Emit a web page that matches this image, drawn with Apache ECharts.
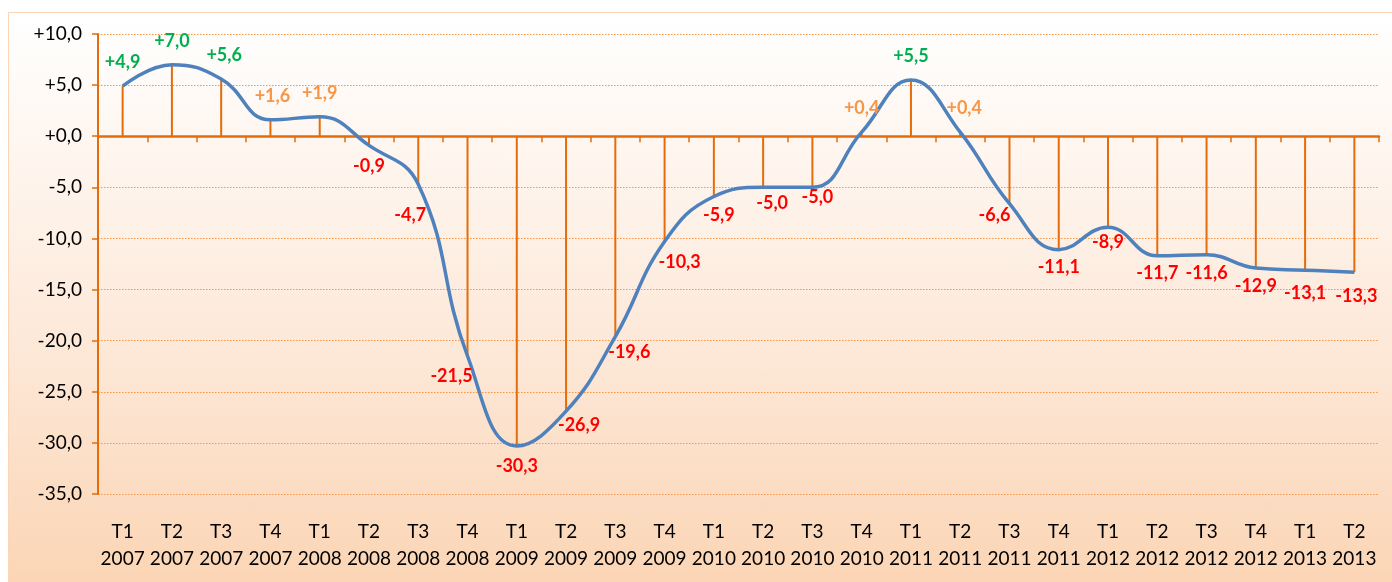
<!DOCTYPE html>
<html>
<head>
<meta charset="utf-8">
<script src="https://cdn.jsdelivr.net/npm/echarts@6/dist/echarts.min.js"></script>
<style>
  html, body { margin: 0; padding: 0; background: #fff; }
  #chart {
    position: absolute;
    left: 8px;
    top: 12px;
    width: 1383px;
    height: 569px;
    border: 1px solid #fbd5b5;
    background: linear-gradient(to bottom, #ffffff 0%, #fdeadb 55%, #fbd5b5 100%);
  }
</style>
</head>
<body>
<div id="chart"></div>
<script>
// quarters and years on the x axis
const quarters = ["T1", "T2", "T3", "T4", "T1", "T2", "T3", "T4", "T1", "T2", "T3", "T4",
  "T1", "T2", "T3", "T4", "T1", "T2", "T3", "T4", "T1", "T2", "T3", "T4", "T1", "T2"];
const years = ["2007", "2007", "2007", "2007", "2008", "2008", "2008", "2008", "2009", "2009", "2009", "2009",
  "2010", "2010", "2010", "2010", "2011", "2011", "2011", "2011", "2012", "2012", "2012", "2012", "2013", "2013"];
const values = [4.9, 7.0, 5.6, 1.6, 1.9, -0.9, -4.7, -21.5, -30.3, -26.9, -19.6, -10.3,
  -5.9, -5.0, -5.0, 0.4, 5.5, 0.4, -6.6, -11.1, -8.9, -11.7, -11.6, -12.9, -13.1, -13.3];
// manual label nudges [dx, dy] (like hand-moved labels in the original)
const labelNudge = [[0, 0], [0, 0], [3, 0], [2, 0], [0, 0], [0, 0], [-8, 10], [-16, 0], [0, 0], [13, -7],
  [14, -5], [15, 0], [5, -2], [9, -5], [5, -11], [0, 0], [0, 0], [4, 0], [-15, -9], [0, -3],
  [0, -6], [0, -3], [0, -2], [0, -2], [0, 3], [2, 4]];

const categories = quarters.map((q, i) => q + "\n" + years[i]);
const fmt = (v) => (v >= 0 ? "+" : "") + v.toFixed(1).replace(".", ",");
const labelColor = (v) => (v < 0 ? "#ff0000" : v >= 4 ? "#00b050" : "#f79646");

const orange = "#e46c0a";
const chart = echarts.init(document.getElementById("chart"));

chart.setOption({
  animation: false,
  textStyle: { fontFamily: "Lato" },
  grid: { left: 89, right: 13, top: 21, bottom: 88 },
  xAxis: [
    {
      // zero line with the boundary ticks
      type: "category",
      data: categories,
      axisLine: { onZero: true, lineStyle: { color: orange, width: 2.5 } },
      axisTick: { show: true, length: 6, lineStyle: { color: orange, width: 1.5 } },
      axisLabel: { show: false },
    },
    {
      // labels at the bottom
      type: "category",
      data: categories,
      position: "bottom",
      axisLine: { show: false, onZero: false },
      axisTick: { show: false },
      axisLabel: { color: "#000", fontSize: 19, lineHeight: 27, margin: 24, interval: 0 },
    },
  ],
  yAxis: {
    type: "value",
    min: -35,
    max: 10,
    interval: 5,
    axisLine: { show: true, onZero: false, lineStyle: { color: orange, width: 2 } },
    axisTick: { show: true, length: 6, lineStyle: { color: orange, width: 1.5 } },
    axisLabel: { color: "#000", fontSize: 19, margin: 16, formatter: fmt },
    splitLine: { lineStyle: { color: "#f79646", type: [1.5, 1.5], width: 1 } },
  },
  series: [
    {
      type: "bar",
      data: values,
      barWidth: 2,
      itemStyle: { color: orange },
      z: 1,
    },
    {
      type: "line",
      data: values.map((v, i) => ({
        value: v,
        label: {
          position: v >= 0 ? "top" : "bottom",
          distance: v >= 0 ? 14 : 11,
          offset: labelNudge[i],
          color: labelColor(v),
        },
      })),
      smooth: 0.45,
      showSymbol: true,
      symbol: "circle",
      symbolSize: 1,
      itemStyle: { color: "rgba(0,0,0,0)" },
      lineStyle: { color: "#4f81bd", width: 3.5 },
      label: {
        show: true,
        fontSize: 18,
        fontWeight: "bold",
        formatter: (p) => fmt(p.value),
      },
      z: 3,
    },
  ],
});
</script>
</body>
</html>
